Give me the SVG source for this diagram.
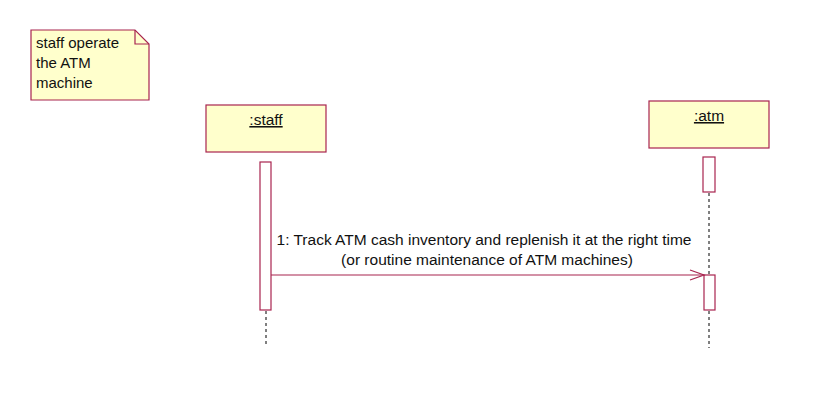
<svg xmlns="http://www.w3.org/2000/svg" width="837" height="401" viewBox="0 0 837 401">
<style>
.box{fill:#ffffcc;stroke:#a8244f;stroke-width:1.2}
.act{fill:#ffffff;stroke:#a8244f;stroke-width:1.2}
.life{stroke:#000;stroke-width:1;stroke-dasharray:3,3;fill:none}
.msg{stroke:#a8244f;stroke-width:1.2;fill:none}
text{font-family:"Liberation Sans",Arial,sans-serif;font-size:15.5px;fill:#111}
.n{font-size:15px}
</style>
<rect width="837" height="401" fill="#fff"/>
<g id="note">
<path class="box" d="M31,30 H135 L149,44 V100 H31 Z"/>
<path d="M135,30 V44 H149" fill="none" stroke="#a8244f" stroke-width="1.2"/>
<text class="n" x="36" y="48">staff operate</text>
<text class="n" x="36" y="68">the ATM</text>
<text class="n" x="36" y="88">machine</text>
</g>
<g id="staff">
<rect class="box" x="206" y="105" width="120" height="47"/>
<text x="266" y="125" text-anchor="middle" text-decoration="underline">:staff</text>
<rect class="act" x="260" y="162" width="11" height="148"/>
</g>
<g id="atm">
<rect class="box" x="649" y="101" width="120" height="47"/>
<text x="709" y="121" text-anchor="middle" text-decoration="underline">:atm</text>
<rect class="act" x="703" y="157" width="12" height="35"/>
<rect class="act" x="704" y="275" width="11" height="35"/>
</g>
<g id="connectors">
<line class="life" x1="266" y1="311" x2="266" y2="346"/>
<line class="life" x1="709" y1="193" x2="709" y2="274"/>
<line class="life" x1="709" y1="311" x2="709" y2="348"/>
<line class="msg" x1="271" y1="275" x2="704" y2="275"/>
<path class="msg" d="M690,270 L704,275 L690,280"/>
<text x="484" y="245" text-anchor="middle">1: Track ATM cash inventory and replenish it at the right time</text>
<text x="487" y="265" text-anchor="middle">(or routine maintenance of ATM machines)</text>
</g>
</svg>
